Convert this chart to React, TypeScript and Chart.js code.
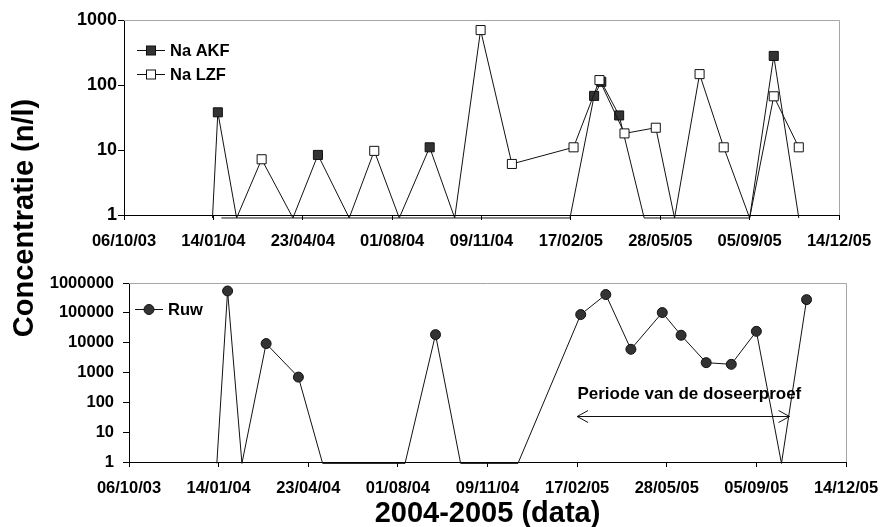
import React, { useEffect, useRef } from 'react';
import { Chart, registerables } from 'chart.js';

Chart.register(...registerables);

const FONT = "'Liberation Sans', Arial, Helvetica, sans-serif";

// ---- data ----
const BASE_DATE = '2003-10-06';
const X_TICK_LABELS = ['06/10/03', '14/01/04', '23/04/04', '01/08/04', '09/11/04', '17/02/05', '28/05/05', '05/09/05', '14/12/05'];
const X_TICK_STEP_DAYS = 100;

const TOP_Y_TICKS = [1, 10, 100, 1000];
const BOTTOM_Y_TICKS = [1, 10, 100, 1000, 10000, 100000, 1000000];

const AKF_LABEL = 'Na AKF';
const AKF_DATES = ['2004-01-13', '2004-01-19', '2004-02-09', '2004-04-12', '2004-05-10', '2004-06-14', '2004-08-09', '2004-09-12', '2004-10-10', '2005-02-16', '2005-03-15', '2005-03-23', '2005-04-12', '2005-05-10', '2005-09-05', '2005-10-02', '2005-10-30'];
const AKF_VALUES = [0, 38, 0, 0, 8.4, 0, 0, 11, 0, 0, 68, 112, 34, 0, 0, 280, 0];

const LZF_LABEL = 'Na LZF';
const LZF_DATES = ['2004-01-23', '2004-02-09', '2004-03-08', '2004-04-12', '2004-06-14', '2004-07-12', '2004-08-09', '2004-10-10', '2004-11-08', '2004-12-13', '2005-02-20', '2005-03-21', '2005-04-18', '2005-05-23', '2005-06-13', '2005-07-11', '2005-08-07', '2005-09-05', '2005-10-02', '2005-10-30'];
const LZF_VALUES = [0, 0, 7.2, 0, 0, 9.7, 0, 0, 700, 6.1, 11, 119, 18, 22, 0, 147, 11, 0, 67, 11];

const RUW_LABEL = 'Ruw';
const RUW_DATES = ['2004-01-12', '2004-01-24', '2004-02-09', '2004-03-07', '2004-04-12', '2004-05-09', '2004-08-09', '2004-09-12', '2004-10-10', '2004-12-13', '2005-02-21', '2005-03-21', '2005-04-18', '2005-05-23', '2005-06-13', '2005-07-11', '2005-08-08', '2005-09-05', '2005-10-03', '2005-10-31'];
const RUW_VALUES = [0, 540000, 0, 9300, 700, 0, 0, 18600, 0, 0, 87500, 410000, 6000, 102000, 17700, 2140, 1880, 24000, 0, 277000];

const DOSE_LABEL = 'Periode van de doseerproef';
const DOSE_START = '2005-02-17';
const DOSE_END = '2005-10-12';

const Y_TITLE = 'Concentratie (n/l)';
const X_TITLE = '2004-2005 (data)';

// zero (not detected) values are drawn just under the log axis, as in the spreadsheet
const ZERO_PLOT = 0.9;

function dayOf(iso: string): number {
  const [y, m, d] = iso.split('-').map(Number);
  const [by, bm, bd] = BASE_DATE.split('-').map(Number);
  return Math.round((Date.UTC(y, m - 1, d) - Date.UTC(by, bm - 1, bd)) / 86400000);
}

function series(dates: string[], values: number[], opts: any) {
  return {
    data: dates.map((d, i) => ({ x: dayOf(d), y: values[i] > 0 ? values[i] : ZERO_PLOT })),
    borderColor: '#111',
    borderWidth: 1,
    pointBorderColor: '#111',
    pointBorderWidth: 1,
    tension: 0,
    clip: false,
    ...opts,
    pointRadius: (ctx: any) => (values[ctx.dataIndex] > 0 ? opts.r : 0),
  };
}

const framePlugin = {
  id: 'frame',
  beforeDatasetsDraw(chart: any) {
    const { ctx, chartArea: a } = chart;
    ctx.save();
    ctx.strokeStyle = '#a6a6a6';
    ctx.lineWidth = 1;
    ctx.beginPath();
    ctx.moveTo(a.left, Math.round(a.top) + 0.5);
    ctx.lineTo(Math.round(a.right) + 0.5, Math.round(a.top) + 0.5);
    ctx.lineTo(Math.round(a.right) + 0.5, a.bottom);
    ctx.stroke();
    ctx.restore();
  },
};

const insideLegendPlugin = {
  id: 'insideLegend',
  afterDraw(chart: any, _args: any, opts: any) {
    const { ctx } = chart;
    ctx.save();
    for (const it of opts.items || []) {
      ctx.strokeStyle = '#111';
      ctx.lineWidth = 1;
      ctx.beginPath();
      ctx.moveTo(it.x1, it.y + 0.5);
      ctx.lineTo(it.x2, it.y + 0.5);
      ctx.stroke();
      const cx = (it.x1 + it.x2) / 2;
      ctx.fillStyle = it.fill;
      if (it.shape === 'circle') {
        ctx.beginPath();
        ctx.arc(cx, it.y + 0.5, it.size / 2, 0, Math.PI * 2);
        ctx.fill();
        ctx.stroke();
      } else {
        const s = it.size;
        ctx.fillRect(cx - s / 2, it.y + 0.5 - s / 2, s, s);
        ctx.strokeRect(cx - s / 2, it.y + 0.5 - s / 2, s, s);
      }
      ctx.fillStyle = '#000';
      ctx.font = `bold 16.5px ${FONT}`;
      ctx.textAlign = 'left';
      ctx.textBaseline = 'middle';
      ctx.fillText(it.label, it.textX, it.y + 1);
    }
    ctx.restore();
  },
};

const dosePlugin = {
  id: 'dosePeriod',
  afterDatasetsDraw(chart: any, _args: any, opts: any) {
    if (!opts || !opts.label) return;
    const { ctx } = chart;
    const xs = chart.scales.x;
    const ys = chart.scales.y;
    const x1 = xs.getPixelForValue(dayOf(opts.start));
    const x2 = xs.getPixelForValue(dayOf(opts.end));
    const y = Math.round(ys.getPixelForValue(opts.arrowAt)) + 0.5;
    ctx.save();
    ctx.strokeStyle = '#111';
    ctx.lineWidth = 1;
    ctx.beginPath();
    ctx.moveTo(x1, y);
    ctx.lineTo(x2, y);
    ctx.moveTo(x1 + 11, y - 6);
    ctx.lineTo(x1, y);
    ctx.lineTo(x1 + 11, y + 6);
    ctx.moveTo(x2 - 11, y - 6);
    ctx.lineTo(x2, y);
    ctx.lineTo(x2 - 11, y + 6);
    ctx.stroke();
    ctx.fillStyle = '#000';
    ctx.font = `bold 17px ${FONT}`;
    ctx.textAlign = 'center';
    ctx.textBaseline = 'middle';
    const tx = (x1 + x2) / 2 + 6;
    ctx.fillText(opts.label, tx, ys.getPixelForValue(opts.textAt));
    ctx.restore();
  },
};

function buildOptions(p: any) {
  return {
    responsive: false,
    maintainAspectRatio: false,
    animation: false,
    events: [],
    layout: { padding: { left: 0, top: p.padTop, right: p.padRight, bottom: 0 } },
    plugins: {
      legend: { display: false },
      tooltip: { enabled: false },
      insideLegend: { items: p.legendItems },
      dosePeriod: p.dose || {},
    },
    scales: {
      x: {
        type: 'linear',
        min: 0,
        max: X_TICK_STEP_DAYS * (X_TICK_LABELS.length - 1),
        afterBuildTicks: (s: any) => {
          s.ticks = X_TICK_LABELS.map((_, i) => ({ value: i * X_TICK_STEP_DAYS }));
        },
        afterFit: (s: any) => {
          s.height = p.xHeight;
          s.paddingLeft = 0;
          s.paddingRight = 0;
        },
        ticks: {
          autoSkip: false,
          maxRotation: 0,
          minRotation: 0,
          padding: p.xPad,
          color: '#000',
          font: { family: FONT, size: 16.5, weight: 'bold' },
          callback: (v: number) => X_TICK_LABELS[Math.round(v / X_TICK_STEP_DAYS)] ?? '',
        },
        grid: { drawOnChartArea: false, drawTicks: true, tickLength: 5, color: '#000', lineWidth: 1 },
        border: { display: true, color: '#000', width: 1 },
      },
      y: {
        type: 'logarithmic',
        min: p.yTicks[0],
        max: p.yTicks[p.yTicks.length - 1],
        afterBuildTicks: (s: any) => {
          s.ticks = p.yTicks.map((v: number) => ({ value: v }));
        },
        afterFit: (s: any) => {
          s.width = p.yWidth;
        },
        ticks: {
          padding: p.yPad,
          color: '#000',
          font: { family: FONT, size: p.yFont, weight: 'bold' },
          callback: (v: number) => String(v),
        },
        grid: { drawOnChartArea: false, drawTicks: true, tickLength: 6, color: '#000', lineWidth: 1 },
        border: { display: true, color: '#000', width: 1 },
      },
    },
  };
}

export default function App() {
  const topRef = useRef<HTMLCanvasElement>(null);
  const botRef = useRef<HTMLCanvasElement>(null);

  useEffect(() => {
    const top = new Chart(topRef.current as HTMLCanvasElement, {
      type: 'line',
      data: {
        datasets: [
          series(AKF_DATES, AKF_VALUES, { label: AKF_LABEL, pointStyle: 'rect', pointBackgroundColor: '#333', r: 6.4, order: 1 }),
          series(LZF_DATES, LZF_VALUES, { label: LZF_LABEL, pointStyle: 'rect', pointBackgroundColor: '#fff', r: 6.4, order: 0 }),
        ],
      },
      options: buildOptions({
        padTop: 20,
        padRight: 42,
        xHeight: 47,
        yWidth: 124,
        xPad: 12,
        yPad: 1,
        yFont: 18,
        yTicks: TOP_Y_TICKS,
        legendItems: [
          { x1: 137, x2: 165, y: 50, textX: 170, label: AKF_LABEL, shape: 'rect', fill: '#333', size: 9 },
          { x1: 137, x2: 165, y: 74, textX: 170, label: LZF_LABEL, shape: 'rect', fill: '#fff', size: 9 },
        ],
      }) as any,
      plugins: [framePlugin, insideLegendPlugin],
    });

    const bot = new Chart(botRef.current as HTMLCanvasElement, {
      type: 'line',
      data: {
        datasets: [
          series(RUW_DATES, RUW_VALUES, { label: RUW_LABEL, pointStyle: 'circle', pointBackgroundColor: '#333', r: 5, order: 0 }),
        ],
      },
      options: buildOptions({
        padTop: 21,
        padRight: 35,
        xHeight: 65,
        yWidth: 129,
        xPad: 12,
        yPad: 9,
        yFont: 16.5,
        yTicks: BOTTOM_Y_TICKS,
        legendItems: [
          { x1: 135, x2: 163, y: 47, textX: 168, label: RUW_LABEL, shape: 'circle', fill: '#333', size: 10 },
        ],
        dose: { label: DOSE_LABEL, start: DOSE_START, end: DOSE_END, arrowAt: 35, textAt: 180 },
      }) as any,
      plugins: [framePlugin, insideLegendPlugin, dosePlugin],
    });

    return () => {
      top.destroy();
      bot.destroy();
    };
  }, []);

  return (
    <div style={{ position: 'absolute', left: 0, top: 0, width: 881, height: 527, background: '#fff', fontFamily: FONT, overflow: 'hidden' }}>
      <canvas ref={topRef} width={881} height={262} style={{ position: 'absolute', left: 0, top: 0 }} />
      <canvas ref={botRef} width={881} height={265} style={{ position: 'absolute', left: 0, top: 262 }} />
      <div
        style={{
          position: 'absolute',
          left: 287.5,
          top: 496,
          width: 400,
          height: 32,
          lineHeight: '32px',
          textAlign: 'center',
          fontWeight: 'bold',
          fontSize: 29,
          color: '#000',
          whiteSpace: 'nowrap',
        }}
      >
        {X_TITLE}
      </div>
      <div
        style={{
          position: 'absolute',
          left: 23 - 200,
          top: 218 - 16,
          width: 400,
          height: 32,
          lineHeight: '32px',
          textAlign: 'center',
          fontWeight: 'bold',
          fontSize: 29,
          color: '#000',
          whiteSpace: 'nowrap',
          transform: 'rotate(-90deg)',
        }}
      >
        {Y_TITLE}
      </div>
    </div>
  );
}
